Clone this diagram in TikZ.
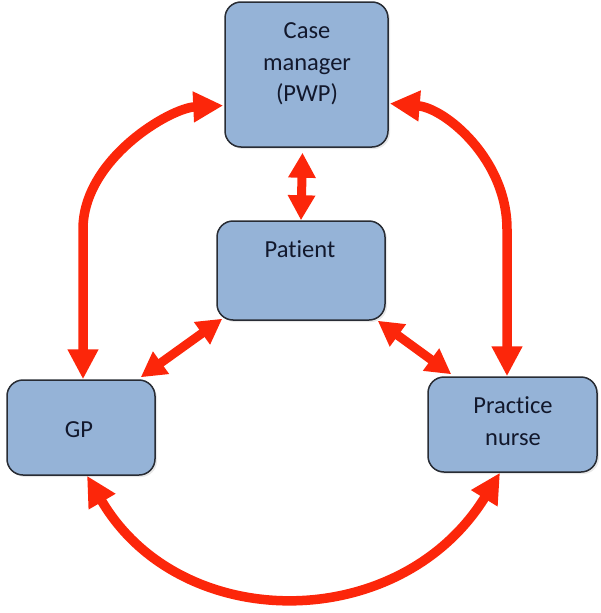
\documentclass[tikz,border=0pt]{standalone}
\usepackage{fontspec}
\setmainfont[Ligatures={NoCommon,NoRare,NoContextual}]{Carlito}
\usetikzlibrary{arrows.meta,shadows}
\definecolor{boxfill}{RGB}{149,179,215}
\definecolor{boxline}{RGB}{40,44,52}
\definecolor{txt}{RGB}{18,24,44}
\definecolor{arrred}{RGB}{252,38,10}
\tikzset{
  box/.style={draw=boxline, line width=1.5pt, fill=boxfill, rounded corners=16pt,
    minimum width=#1, inner sep=0pt, drop shadow={opacity=0.18, shadow xshift=2pt, shadow yshift=-2pt}},
  lbl/.style={text=txt, font=\fontsize{24.5}{31.5}\selectfont, align=center, inner sep=0pt},
  link/.style={draw=arrred, line width=9.5pt,
    {Triangle[length=30pt,width=29pt]}-{Triangle[length=30pt,width=29pt]}},
  slink/.style={draw=arrred, line width=9pt,
    {Triangle[length=25pt,width=26pt]}-{Triangle[length=25pt,width=26pt]}}
}
\begin{document}
\begin{tikzpicture}[x=1pt,y=-1pt]
\useasboundingbox (0,0) rectangle (600,613);
% boxes
\node[box=163pt, minimum height=145pt] (cm) at (306.5,74.5) {};
\node[box=168pt, minimum height=99pt] (pat) at (301,270.5) {};
\node[box=148pt, minimum height=95pt] (gp) at (81,427.5) {};
\node[box=169pt, minimum height=95pt] (pn) at (512.5,424.5) {};
% texts
\node[lbl] (cmt) at (307,64) {Case\\manager\\(PWP)};
\node[lbl] (patt) at (300,249) {Patient};
\node[lbl] (gpt) at (79,430) {GP};
\node[lbl] (pnt) at (513,421) {Practice\\nurse};
% connectors
\draw[link] ([xshift=2pt]gp.north) -- ++(0,-150) .. controls +(0,-70) and (170,108) .. ([yshift=-31pt,xshift=-1pt]cm.west);
\draw[link] ([xshift=-5.5pt]pn.north) -- ++(0,-147) .. controls +(0,-70) and (445,108) .. ([yshift=-29pt,xshift=1pt]cm.east);
\draw[slink] ([yshift=-5pt,xshift=-4pt]cm.south) -- (pat.north);
\draw[slink] ([xshift=6pt,yshift=2pt]pat.south west) -- ([xshift=-15pt,yshift=2pt]gp.north east);
\draw[slink] ([xshift=-8pt]pat.south east) -- ([xshift=24pt,yshift=2pt]pn.north west);
\draw[link] ([xshift=6pt]gp.south) .. controls (180,635) and (400,635) .. ([xshift=-12.5pt]pn.south);
\end{tikzpicture}
\end{document}
